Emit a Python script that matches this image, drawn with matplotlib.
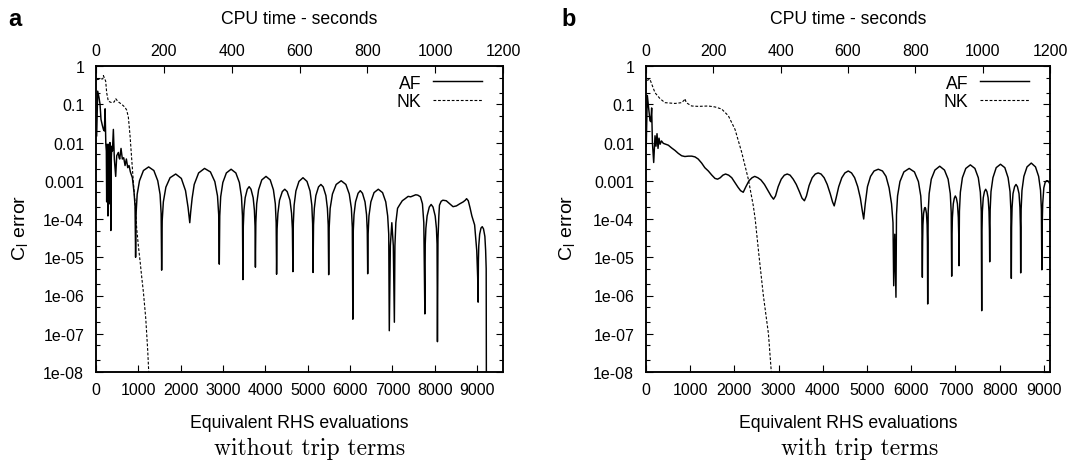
import matplotlib
matplotlib.use("Agg")
import matplotlib.pyplot as plt
from matplotlib.ticker import FixedLocator, FixedFormatter, LogLocator, NullFormatter

plt.rcParams['font.family'] = ['Liberation Sans', 'DejaVu Sans']

# ---------------- data ----------------
yticks = [1e-8, 1e-7, 1e-6, 1e-5, 1e-4, 1e-3, 1e-2, 1e-1, 1]
ytick_labels = ["1e-08", "1e-07", "1e-06", "1e-05", "1e-04", "0.001", "0.01", "0.1", "1"]
xticks = [0, 1000, 2000, 3000, 4000, 5000, 6000, 7000, 8000, 9000]
x2ticks = [0, 200, 400, 600, 800, 1000, 1200]

# panel a (without trip terms): AF
af_a = [
    (16, 0.015), (40, 0.22), (71, 0.15), (95, 0.1), (118, 0.04), (150, 0.028), (175, 0.022),
    (197, 0.02), (215, 0.076), (232, 0.009), (244, 0.006), (252, 2.8e-4), (262, 0.009),
    (275, 0.004), (282, 1.2e-4), (292, 0.009), (305, 0.006), (318, 2.5e-4), (328, 0.01),
    (340, 0.005), (350, 5e-5), (362, 0.004), (374, 0.008), (388, 0.006), (410, 0.022),
    (433, 0.0037), (465, 0.0013), (489, 0.0045), (510, 0.005), (528, 0.0055), (545, 0.004),
    (560, 0.0037), (591, 0.007), (622, 0.0037), (654, 0.004), (686, 0.0025), (717, 0.0037),
    (749, 0.0022), (780, 0.0025), (812, 0.0017), (859, 0.0012), (898, 5e-4), (922, 2.2e-4),
    (935, 1e-5),
    (947, 1.4e-4), (972, 4.4e-4), (1027, 1.0e-3), (1120, 1.85e-3), (1243, 2.3e-3),
    (1366, 1.85e-3), (1458, 1.0e-3), (1513, 4.4e-4), (1538, 1.4e-4), (1550, 4.6e-6),
    (1563, 9e-5), (1590, 2.8e-4), (1650, 6.8e-4), (1749, 1.2e-3), (1882, 1.5e-3),
    (2015, 1.15e-3), (2114, 5.5e-4), (2174, 2e-4), (2214, 8e-5),
    (2235, 1.5e-4), (2270, 3.5e-4), (2319, 8e-4), (2423, 1.6e-3), (2563, 2.1e-3),
    (2702, 1.7e-3), (2806, 9.5e-4), (2869, 4e-4), (2897, 1.3e-4), (2911, 6.6e-6),
    (2922, 1.2e-4), (2944, 3.8e-4), (2995, 9e-4), (3078, 1.6e-3), (3190, 2.0e-3),
    (3302, 1.6e-3), (3385, 9e-4), (3435, 3.8e-4), (3458, 1.2e-4), (3469, 2.6e-6),
    (3478, 6.5e-5), (3493, 1.7e-4), (3522, 3.6e-4), (3572, 6e-4), (3616, 7e-4),
    (3660, 6e-4), (3711, 3.6e-4), (3740, 1.7e-4), (3755, 6.5e-5), (3764, 5.5e-6),
    (3774, 8e-5), (3794, 2.5e-4), (3839, 5.8e-4), (3914, 1.05e-3), (4014, 1.3e-3),
    (4114, 1.05e-3), (4189, 5.8e-4), (4234, 2.5e-4), (4254, 8e-5), (4264, 3.6e-6),
    (4276, 5.5e-5), (4295, 1.4e-4), (4333, 3.1e-4), (4399, 5.2e-4), (4457, 6e-4),
    (4514, 5.2e-4), (4580, 3.1e-4), (4618, 1.4e-4), (4637, 5.5e-5), (4649, 4.2e-6),
    (4659, 7.5e-5), (4678, 2.3e-4), (4720, 5.4e-4), (4792, 9.6e-4), (4887, 1.2e-3),
    (4982, 9.6e-4), (5054, 5.4e-4), (5096, 2.3e-4), (5115, 7.5e-5), (5125, 4e-6),
    (5136, 7e-5), (5155, 1.9e-4), (5191, 4.1e-4), (5254, 6.9e-4), (5310, 8e-4),
    (5365, 6.9e-4), (5428, 4.1e-4), (5464, 1.9e-4), (5483, 7e-5), (5494, 3.5e-6),
    (5506, 6e-5), (5529, 1.9e-4), (5583, 4.5e-4), (5671, 8e-4), (5789, 1e-3),
    (5900, 8e-4), (5980, 4.5e-4), (6030, 1.9e-4), (6052, 6e-5), (6064, 2.4e-7),
    (6075, 5e-5), (6092, 1.3e-4), (6128, 2.8e-4), (6188, 4.7e-4), (6240, 5.5e-4),
    (6292, 4.7e-4), (6352, 2.8e-4), (6388, 1.3e-4), (6405, 5e-5), (6415, 3.7e-6),
    (6425, 4e-5), (6445, 1.2e-4), (6490, 2.8e-4), (6565, 4.9e-4), (6665, 6e-4),
    (6766, 4.9e-4), (6842, 2.8e-4), (6887, 1.2e-4), (6912, 4e-5), (6925, 1.2e-7),
    (6950, 2e-5), (6985, 8e-5), (7020, 2e-5), (7045, 2e-7),
    (7058, 2e-5), (7080, 8e-5), (7120, 1.9e-4), (7165, 2.3e-4), (7232, 3e-4), (7300, 3.4e-4),
    (7370, 3.9e-4), (7430, 3.8e-4), (7500, 4.1e-4), (7550, 4.3e-4), (7600, 4.2e-4),
    (7660, 3.8e-4), (7708, 2.5e-4), (7740, 8e-5), (7765, 3.3e-7),
    (7774, 2.2e-5), (7789, 5.7e-5), (7818, 1.2e-4), (7869, 2.05e-4), (7913, 2.4e-4),
    (7958, 2.05e-4), (8009, 1.2e-4), (8038, 5.7e-5), (8053, 2.2e-5), (8062, 6.2e-8),
    (8075, 3e-5), (8095, 1.2e-4), (8110, 2.3e-4), (8150, 2.9e-4), (8190, 3.1e-4),
    (8270, 3e-4), (8350, 2.5e-4), (8430, 2.1e-4), (8510, 2.2e-4), (8590, 2.5e-4),
    (8670, 2.8e-4), (8720, 3.1e-4), (8750, 3.4e-4), (8790, 3e-4), (8830, 2e-4),
    (8875, 1.2e-4), (8940, 7e-5), (8990, 1.5e-5), (9012, 3e-6), (9023, 6.7e-7),
    (9029, 8e-6), (9038, 2e-5), (9059, 4e-5), (9090, 5.8e-5), (9120, 6.3e-5),
    (9150, 5.5e-5), (9182, 3.5e-5), (9200, 1.5e-5), (9213, 5e-6), (9220, 1e-10),
]

# panel a: NK
nk_a = [
    (15, 0.44), (134, 0.46), (160, 0.46), (175, 0.56), (229, 0.4), (252, 0.2), (291, 0.12),
    (370, 0.11), (430, 0.115), (465, 0.14), (500, 0.125), (528, 0.115), (607, 0.1),
    (686, 0.083), (725, 0.07), (764, 0.046), (804, 0.015), (843, 0.0037), (883, 9e-4),
    (922, 2.7e-4), (962, 5.5e-5), (1000, 2e-5), (1040, 8e-6), (1080, 3e-6), (1120, 1.2e-6),
    (1175, 2.5e-7), (1222, 3.5e-8), (1245, 1e-8), (1260, 5e-9),
]

# panel b (with trip terms): AF
af_b = [
    (5, 0.008), (30, 0.17), (55, 0.09), (90, 0.037), (110, 0.035), (128, 0.08), (145, 0.01),
    (174, 0.003), (204, 0.015), (226, 0.008), (249, 0.017), (272, 0.007), (294, 0.013),
    (320, 0.009), (350, 0.011), (392, 0.0095), (450, 0.009), (505, 0.0085), (580, 0.0072),
    (656, 0.0062), (730, 0.0052), (807, 0.0045), (880, 0.0043), (958, 0.0044), (1035, 0.0044),
    (1109, 0.0042), (1180, 0.0037), (1259, 0.0029), (1330, 0.0022), (1410, 0.0018),
    (1490, 0.0014), (1561, 0.00115), (1620, 0.0011), (1680, 0.0012), (1740, 0.0014),
    (1800, 0.0015), (1870, 0.0014), (1940, 0.0012), (2010, 0.0009), (2080, 0.00068),
    (2140, 0.00055), (2200, 0.0005), (2260, 0.0007), (2330, 0.001), (2400, 0.0012),
    (2460, 0.0013), (2530, 0.0012), (2600, 0.00105), (2680, 0.0008), (2760, 0.00055),
    (2830, 0.0004), (2885, 0.00033), (2930, 0.0004), (2990, 0.0007), (3060, 0.0011),
    (3130, 0.0014), (3195, 0.0015), (3260, 0.0014), (3330, 0.0011), (3400, 0.0008),
    (3470, 0.00052), (3530, 0.00035), (3584, 0.0003), (3630, 0.0004), (3690, 0.00075),
    (3760, 0.0012), (3830, 0.0015), (3895, 0.0016), (3960, 0.0015), (4030, 0.0012),
    (4100, 0.0008), (4170, 0.00045), (4220, 0.00028), (4258, 0.00022), (4300, 0.00035),
    (4360, 0.0007), (4430, 0.0012), (4500, 0.0016), (4576, 0.0018), (4650, 0.0016),
    (4720, 0.0012), (4790, 0.0007), (4850, 0.00035), (4895, 0.00016), (4925, 0.0001),
    (4960, 2.5e-4), (5010, 7e-4), (5080, 1.3e-3), (5160, 1.8e-3), (5255, 2.0e-3),
    (5350, 1.8e-3), (5430, 1.3e-3), (5500, 6.5e-4), (5555, 2.5e-4), (5588, 8e-5),
    (5604, 1.8e-6), (5628, 4e-5), (5655, 9e-7),
    (5667, 1.3e-4), (5691, 4e-4), (5745, 9.5e-4), (5834, 1.7e-3), (5954, 2.1e-3),
    (6073, 1.7e-3), (6163, 9.5e-4), (6216, 4e-4), (6240, 1.3e-4), (6252, 3e-6),
    (6258, 2.5e-5), (6265, 7e-5), (6280, 1.4e-4), (6300, 1.9e-4), (6312, 2e-4),
    (6325, 1.9e-4), (6345, 1.4e-4), (6360, 7e-5), (6367, 2.5e-5), (6373, 6e-7),
    (6384, 1.5e-4), (6406, 4.6e-4), (6454, 1.1e-3), (6536, 1.9e-3), (6645, 2.4e-3),
    (6753, 1.9e-3), (6835, 1.1e-3), (6884, 4.6e-4), (6905, 1.5e-4), (6916, 3.2e-6),
    (6922, 4e-5), (6932, 1.1e-4), (6952, 2.5e-4), (6975, 3.5e-4), (6998, 4e-4),
    (7022, 3.5e-4), (7046, 2.5e-4), (7066, 1.1e-4), (7075, 4e-5), (7081, 6e-6),
    (7091, 1.6e-4), (7112, 5e-4), (7158, 1.2e-3), (7235, 2.1e-3), (7338, 2.6e-3),
    (7441, 2.1e-3), (7518, 1.2e-3), (7564, 5e-4), (7585, 1.6e-4), (7595, 4e-7),
    (7600, 5e-5), (7610, 1.6e-4), (7630, 3.6e-4), (7657, 5.2e-4), (7685, 6e-4),
    (7713, 5.2e-4), (7740, 3.6e-4), (7760, 1.6e-4), (7770, 5e-5), (7776, 7.6e-6),
    (7786, 1.7e-4), (7805, 5.2e-4), (7849, 1.2e-3), (7923, 2.2e-3), (8020, 2.7e-3),
    (8118, 2.2e-3), (8192, 1.2e-3), (8236, 5.2e-4), (8255, 1.7e-4), (8265, 2.8e-6),
    (8271, 6e-5), (8282, 2e-4), (8303, 4.6e-4), (8339, 7e-4), (8371, 8e-4),
    (8403, 7e-4), (8439, 4.6e-4), (8460, 2e-4), (8471, 6e-5), (8477, 3.9e-6),
    (8487, 1.8e-4), (8506, 5.6e-4), (8549, 1.3e-3), (8620, 2.3e-3), (8716, 2.9e-3),
    (8812, 2.3e-3), (8883, 1.3e-3), (8926, 5.6e-4), (8945, 1.8e-4), (8955, 4.7e-6),
    (8962, 6e-5), (8975, 2.5e-4), (9000, 6.5e-4), (9030, 9e-4), (9060, 1e-3),
    (9090, 1e-3), (9120, 9e-4), (9140, 8e-4),
]

# panel b: NK
nk_b = [
    (15, 0.42), (90, 0.45), (128, 0.34), (204, 0.2), (317, 0.14), (430, 0.11), (656, 0.105),
    (807, 0.11), (870, 0.13), (882, 0.14), (910, 0.11), (1033, 0.09), (1184, 0.088),
    (1410, 0.09), (1561, 0.085), (1712, 0.075), (1863, 0.05), (2014, 0.022), (2164, 0.0056),
    (2315, 0.0011), (2428, 2.2e-4), (2470, 1e-4), (2560, 1e-5), (2655, 1e-6), (2770, 1e-7),
    (2835, 1e-8), (2850, 5e-9),
]

panels = [
    dict(letter="a", sub="without trip terms", af=af_a, nk=nk_a, xmax=9610,
         px=(96, 503), letter_x=15, sub_x=310, ylab_x=21),
    dict(letter="b", sub="with trip terms", af=af_b, nk=nk_b, xmax=9140,
         px=(646, 1050), letter_x=569, sub_x=860, ylab_x=568),
]

# ---------------- figure ----------------
W, H = 1078, 464
fig = plt.figure(figsize=(W / 100, H / 100), dpi=100)
TOP, BOT = 67, 373
TICK_FS = 11.5
LABEL_FS = 12.7

for p in panels:
    l, r = p["px"]
    ax = fig.add_axes([l / W, 1 - BOT / H, (r - l) / W, (BOT - TOP) / H])
    ax.set_yscale("log")
    ax.set_ylim(1e-8, 1)
    ax.set_xlim(0, p["xmax"])
    af_x, af_y = zip(*p["af"])
    nk_x, nk_y = zip(*p["nk"])
    ax.plot(af_x, af_y, color="black", lw=1.05, label="AF")
    ax.plot(nk_x, nk_y, color="black", lw=0.8, linestyle=(0, (2.5, 1.6)), label="NK")

    ax.yaxis.set_major_locator(FixedLocator(yticks))
    ax.yaxis.set_major_formatter(FixedFormatter(ytick_labels))
    ax.yaxis.set_minor_locator(LogLocator(base=10, subs=[2.0, 5.0], numticks=20))
    ax.yaxis.set_minor_formatter(NullFormatter())
    ax.set_xticks(xticks)
    ax.set_xticklabels([str(v) for v in xticks])
    ax.tick_params(axis="both", which="major", direction="in", length=5, width=0.8,
                   labelsize=TICK_FS, top=False, right=True)
    ax.tick_params(axis="both", which="minor", direction="in", length=2.8, width=0.8,
                   right=True)
    ax.tick_params(axis="y", pad=8.5)
    ax.tick_params(axis="x", pad=7)
    for s in ax.spines.values():
        s.set_linewidth(1.1)

    ax2 = ax.twiny()
    ax2.set_xlim(0, 1200)
    ax2.set_xticks(x2ticks)
    ax2.set_xticklabels([str(v) for v in x2ticks])
    ax2.tick_params(axis="x", direction="in", length=5, width=0.8, labelsize=TICK_FS, pad=5.5)
    for s in ax2.spines.values():
        s.set_linewidth(1.1)

    ax.legend(loc="upper right", bbox_to_anchor=(0.948, 0.972), frameon=False,
              markerfirst=False, handlelength=2.75, handletextpad=0.68,
              labelspacing=0.08, borderpad=0, borderaxespad=0, fontsize=LABEL_FS)

    cx = (l + r) / 2
    fig.text(cx / W, 1 - 19 / H, "CPU time - seconds", ha="center", va="center",
             fontsize=LABEL_FS)
    fig.text(cx / W, 1 - 424 / H, "Equivalent RHS evaluations", ha="center", va="center",
             fontsize=LABEL_FS)
    fig.text(p["sub_x"] / W, 1 - 449 / H, p["sub"], ha="center", va="center",
             fontsize=17, family="cmr10")
    fig.text(p["ylab_x"] / W, 1 - 228 / H, r"C$_\mathregular{l}$ error", rotation=90,
             ha="center", va="center", fontsize=14)
    fig.text(p["letter_x"] / W, 1 - 19 / H, p["letter"], ha="center", va="center",
             fontsize=17, fontweight="bold")

fig.savefig("out.png", dpi=100, facecolor="white")
